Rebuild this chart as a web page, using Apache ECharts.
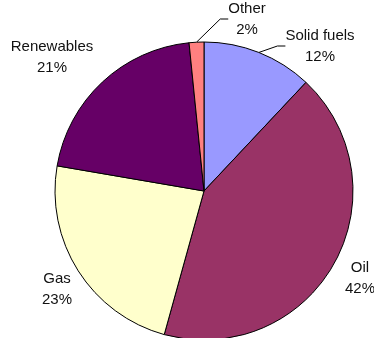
<!DOCTYPE html>
<html>
<head>
<meta charset="utf-8">
<script src="https://cdn.jsdelivr.net/npm/echarts@6/dist/echarts.min.js"></script>
<style>html,body{margin:0;padding:0;background:#fff;}#c{width:374px;height:338px;}</style>
</head>
<body>
<div id="c"></div>
<script>
const categories = ["Solid fuels", "Oil", "Gas", "Renewables", "Other"];
const values = [12.0, 42.3, 23.4, 20.7, 1.6];
const colors = ["#9999FF", "#993366", "#FFFFCC", "#660066", "#FF8080"];
const showLeader = [true, false, false, false, true];
const labelPos = [[320, 46], [360, 278], [57, 289], [52, 57], [247, 19]];

const chart = echarts.init(document.getElementById('c'));
chart.setOption({
  animation: false,
  series: [{
    type: 'pie',
    center: [204, 191],
    radius: 149,
    startAngle: 90,
    clockwise: true,
    avoidLabelOverlap: false,
    data: categories.map((n, i) => ({
      name: n, value: values[i],
      itemStyle: { color: colors[i] },
      labelLine: { show: showLeader[i] }
    })),
    itemStyle: { borderColor: '#000', borderWidth: 1 },
    label: {
      show: true,
      position: 'outside',
      overflow: 'none',
      formatter: p => p.name + '\n' + Math.round(p.percent) + '%',
      fontFamily: 'Liberation Sans, Arial, sans-serif',
      fontSize: 15,
      lineHeight: 21,
      color: '#111',
      align: 'center'
    },
    labelLine: { lineStyle: { color: '#000', width: 1 }, length: 10, length2: 8 },
    labelLayout: function (p) {
      const pos = labelPos[p.dataIndex];
      return { x: pos[0], y: pos[1], align: 'center', verticalAlign: 'middle', hideOverlap: false };
    }
  }]
});
</script>
</body>
</html>
